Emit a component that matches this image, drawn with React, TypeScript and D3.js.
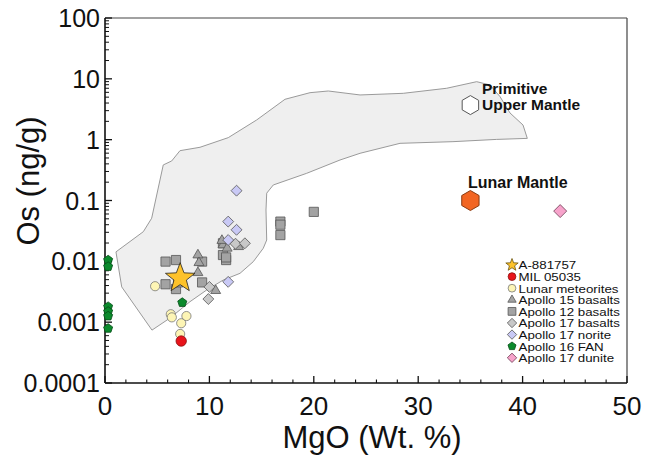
import React from "react";
import * as d3 from "d3";

// ---- Data ----
const fieldOutline: [number, number][] = [
  [4.5, 7.4e-4], [1.6, 0.0038], [1.05, 0.0143], [3.67, 0.0307], [4.47, 0.0511],
  [5.58, 0.384], [6.39, 0.447], [7.18, 0.659], [9.1, 0.75], [11.81, 1.08],
  [14.53, 2.11], [17.24, 4.61], [19.64, 5.92], [21.39, 6.31], [24.43, 5.43],
  [28.57, 5.78], [32.73, 7.0], [35.6, 8.98], [36.88, 7.93], [37.84, 5.09],
  [38.79, 2.75], [40.04, 1.74], [40.45, 1.05], [37.52, 1.01], [33.33, 0.927],
  [28.26, 0.871], [24.43, 0.597], [22.51, 0.463], [19.32, 0.28], [16.12, 0.18],
  [15.49, 0.132], [15.42, 0.0698], [15.49, 0.0224], [15.16, 0.0164], [14.2, 0.00986],
  [12.93, 0.00635], [11.33, 0.00493], [9.74, 0.00338], [8.14, 0.00217], [6.23, 0.00117],
];

const apollo15Basalts: [number, number][] = [
  [8.9, 0.0127], [9.0, 0.0095], [8.9, 0.0065], [10.6, 0.0033], [11.3, 0.0186],
  [11.7, 0.0164], [12.8, 0.0174], [11.2, 0.022],
];
const apollo12Basalts: [number, number][] = [
  [5.8, 0.0099], [6.8, 0.0105], [5.8, 0.0042], [6.8, 0.0035], [9.3, 0.0099],
  [9.3, 0.0045], [11.3, 0.0198], [11.3, 0.0127], [11.6, 0.0105], [11.6, 0.0116],
  [16.8, 0.045], [16.8, 0.04], [16.8, 0.027], [20.0, 0.065], [7.0, 0.0045],
];
const apollo17Basalts: [number, number][] = [
  [10.0, 0.0038], [9.9, 0.0024], [12.5, 0.0195], [13.4, 0.0198],
];
const apollo17Norite: [number, number][] = [
  [12.6, 0.145], [11.8, 0.045], [12.6, 0.033], [11.8, 0.0224], [11.8, 0.0046],
];
const apollo16FAN: [number, number][] = [
  [0.3, 0.0105], [0.3, 0.0082], [0.3, 0.0018], [0.3, 0.0015], [0.3, 0.00126],
  [0.3, 0.00079], [7.4, 0.0021],
];
const lunarMeteorites: [number, number][] = [
  [4.8, 0.0039], [6.3, 0.00135], [6.4, 0.0012], [7.8, 0.00126], [7.3, 0.00096], [7.2, 0.00064],
];
const mil05035: [number, number][] = [[7.3, 0.00049]];
const a881757: [number, number][] = [[7.2, 0.0053]];
const apollo17Dunite: [number, number][] = [[43.6, 0.067]];
const primitiveUpperMantle: [number, number] = [35, 3.7];
const lunarMantle: [number, number] = [35, 0.1];

const xTicks = [0, 10, 20, 30, 40, 50];
const yTicks = [0.0001, 0.001, 0.01, 0.1, 1, 10, 100];
const yTickLabels = ["0.0001", "0.001", "0.01", "0.1", "1", "10", "100"];

type Shape = "star" | "circle" | "triangle" | "square" | "diamond" | "pentagon" | "hexagon";

const legendItems: { label: string; shape: Shape; fill: string; stroke: string }[] = [
  { label: "A-881757", shape: "star", fill: "#fdc22a", stroke: "#5a4a10" },
  { label: "MIL 05035", shape: "circle", fill: "#e8141b", stroke: "#8a1010" },
  { label: "Lunar meteorites", shape: "circle", fill: "#fdf5b5", stroke: "#777" },
  { label: "Apollo 15 basalts", shape: "triangle", fill: "#a3a3a3", stroke: "#555" },
  { label: "Apollo 12 basalts", shape: "square", fill: "#a3a3a3", stroke: "#555" },
  { label: "Apollo 17 basalts", shape: "diamond", fill: "#c8c8c8", stroke: "#555" },
  { label: "Apollo 17 norite", shape: "diamond", fill: "#c9c9f5", stroke: "#555" },
  { label: "Apollo 16 FAN", shape: "pentagon", fill: "#0b8a2c", stroke: "#064d18" },
  { label: "Apollo 17 dunite", shape: "diamond", fill: "#f7a3cb", stroke: "#6a3a50" },
];

// ---- Layout ----
const W = 646, H = 456;
const L = 105, R = 627, T = 18, B = 383;
const FONT = "'Liberation Sans', Arial, Helvetica, sans-serif";

const x = d3.scaleLinear().domain([0, 50]).range([L, R]);
const y = d3.scaleLog().domain([0.0001, 100]).range([B, T]);

function ngon(n: number, r: number, rot = -Math.PI / 2): string {
  const pts = d3.range(n).map((i) => {
    const a = rot + (i * 2 * Math.PI) / n;
    return [r * Math.cos(a), r * Math.sin(a)];
  });
  return "M" + pts.map((p) => p.join(",")).join("L") + "Z";
}
function starPath(r: number): string {
  const pts = d3.range(10).map((i) => {
    const a = -Math.PI / 2 + (i * Math.PI) / 5;
    const rr = i % 2 === 0 ? r : r * 0.42;
    return [rr * Math.cos(a), rr * Math.sin(a)];
  });
  return "M" + pts.map((p) => p.join(",")).join("L") + "Z";
}
function shapePath(shape: Shape, s: number): string {
  switch (shape) {
    case "star": return starPath(s);
    case "circle": return d3.arc()({ innerRadius: 0, outerRadius: s, startAngle: 0, endAngle: 2 * Math.PI }) as string;
    case "triangle": return ngon(3, s * 1.15, -Math.PI / 2);
    case "square": return `M${-s},${-s}H${s}V${s}H${-s}Z`;
    case "diamond": return ngon(4, s * 1.3, -Math.PI / 2);
    case "pentagon": return ngon(5, s * 1.08, -Math.PI / 2);
    case "hexagon": return ngon(6, s, -Math.PI / 2);
  }
}

function Series({ data, shape, fill, stroke, size }: { data: [number, number][]; shape: Shape; fill: string; stroke: string; size: number }) {
  const d = shapePath(shape, size);
  return (
    <g>
      {data.map((p, i) => (
        <path key={i} d={d} transform={`translate(${x(p[0])},${y(p[1])})`} fill={fill} stroke={stroke} strokeWidth={0.8} />
      ))}
    </g>
  );
}

export default function App() {
  const fieldLine = d3.line<[number, number]>().x((d) => x(d[0])).y((d) => y(d[1])).curve(d3.curveLinearClosed);
  const xMinor = d3.range(0, 51, 2).filter((v) => v % 10 !== 0);
  const yMinor: number[] = [];
  for (let e = -4; e < 2; e++) for (let k = 2; k <= 9; k++) yMinor.push(k * Math.pow(10, e));
  const style = (i: number) => legendItems[i];

  return (
    <svg width={W} height={H} style={{ position: "absolute", left: 0, top: 0, background: "#fff" }} fontFamily={FONT}>
      <rect x={0} y={0} width={W} height={H} fill="#fff" />
      {/* shaded field */}
      <path d={fieldLine(fieldOutline) as string} fill="#efefef" stroke="#9a9a9a" strokeWidth={1} />

      {/* frame */}
      <line x1={L} x2={R} y1={T} y2={T} stroke="#444" strokeWidth={1.2} />
      <line x1={R} x2={R} y1={T} y2={B} stroke="#444" strokeWidth={1.2} />
      <line x1={L} x2={L} y1={T} y2={B} stroke="#111" strokeWidth={1.6} />
      <line x1={L} x2={R} y1={B} y2={B} stroke="#111" strokeWidth={1.6} />

      {/* x ticks */}
      {xTicks.map((t) => (
        <g key={"xt" + t}>
          <line x1={x(t)} x2={x(t)} y1={B} y2={B - 7} stroke="#111" strokeWidth={1.3} />
          <text x={x(t)} y={415} textAnchor="middle" fontSize={26} fill="#111">{t}</text>
        </g>
      ))}
      {xMinor.map((t) => (
        <line key={"xm" + t} x1={x(t)} x2={x(t)} y1={B} y2={B - 3.5} stroke="#111" strokeWidth={1.1} />
      ))}
      {/* y ticks */}
      {yTicks.map((t, i) => (
        <g key={"yt" + t}>
          <line x1={L} x2={L + 7} y1={y(t)} y2={y(t)} stroke="#111" strokeWidth={1.3} />
          <text x={100} y={y(t) + 9} textAnchor="end" fontSize={25} fill="#111">{yTickLabels[i]}</text>
        </g>
      ))}
      {yMinor.map((t, i) => (
        <line key={"ym" + i} x1={L} x2={L + 4} y1={y(t)} y2={y(t)} stroke="#111" strokeWidth={1} />
      ))}

      {/* axis titles */}
      <text x={372} y={448} textAnchor="middle" fontSize={31} fill="#111">MgO (Wt. %)</text>
      <text transform={`translate(39,${(117 + 245) / 2}) rotate(-90)`} textAnchor="middle" fontSize={31} fill="#111">Os (ng/g)</text>

      {/* data */}
      <Series data={apollo12Basalts} shape="square" fill={style(4).fill} stroke={style(4).stroke} size={4.6} />
      <Series data={apollo15Basalts} shape="triangle" fill={style(3).fill} stroke={style(3).stroke} size={5} />
      <Series data={apollo17Basalts} shape="diamond" fill={style(5).fill} stroke={style(5).stroke} size={4.2} />
      <Series data={apollo17Norite} shape="diamond" fill={style(6).fill} stroke={style(6).stroke} size={4.2} />
      <Series data={lunarMeteorites} shape="circle" fill={style(2).fill} stroke={style(2).stroke} size={4.6} />
      <Series data={apollo16FAN} shape="pentagon" fill={style(7).fill} stroke={style(7).stroke} size={4.4} />
      <Series data={mil05035} shape="circle" fill={style(1).fill} stroke={style(1).stroke} size={5.2} />
      <Series data={apollo17Dunite} shape="diamond" fill={style(8).fill} stroke={style(8).stroke} size={5} />
      <Series data={a881757} shape="star" fill={style(0).fill} stroke="#222" size={15.5} />

      {/* mantle reference points */}
      <path d={shapePath("hexagon", 9.5)} transform={`translate(${x(primitiveUpperMantle[0])},${y(primitiveUpperMantle[1])})`} fill="#fff" stroke="#555" strokeWidth={1} />
      <path d={shapePath("hexagon", 10)} transform={`translate(${x(lunarMantle[0])},${y(lunarMantle[1])})`} fill="#f26522" stroke="#8a3a10" strokeWidth={1} />
      <text x={482} y={94} fontSize={15.5} fontWeight="bold" fill="#111">Primitive</text>
      <text x={482} y={110} fontSize={15.5} fontWeight="bold" fill="#111">Upper Mantle</text>
      <text x={468} y={188} fontSize={16} fontWeight="bold" fill="#111">Lunar Mantle</text>

      {/* legend */}
      {legendItems.map((it, i) => {
        const cy = 265 + i * 11.6;
        const s = it.shape === "star" ? 6.5 : it.shape === "diamond" ? 3.6 : it.shape === "triangle" ? 4.2 : 3.9;
        return (
          <g key={it.label}>
            <path d={shapePath(it.shape, s)} transform={`translate(512,${cy})`} fill={it.fill} stroke={it.shape === "star" ? "#6a5410" : it.stroke} strokeWidth={0.8} />
            <text transform={`translate(518.5,${cy + 4.3}) scale(1.13,1)`} fontSize={11.8} fill="#111">{it.label}</text>
          </g>
        );
      })}
    </svg>
  );
}
